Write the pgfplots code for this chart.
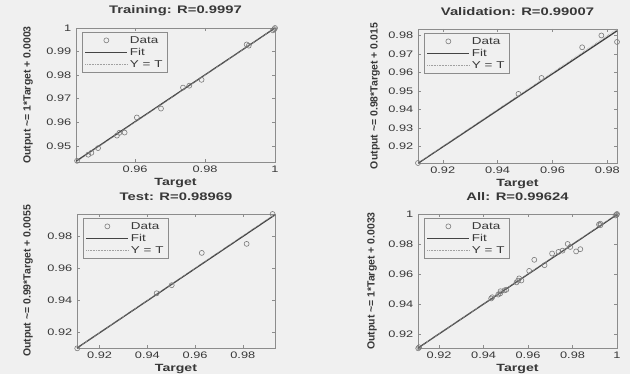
\documentclass[border=0pt]{standalone}
\usepackage{pgfplots}
\pgfplotsset{compat=1.18}
\usepackage{fontspec}
\setmainfont{Liberation Sans}
\definecolor{bgc}{HTML}{F0F0F0}
\definecolor{framec}{HTML}{8C8C8C}
\definecolor{txtc}{HTML}{383838}
\definecolor{fitc}{HTML}{444444}
\definecolor{markc}{HTML}{7A7A7A}
\definecolor{idc}{HTML}{A0A0A0}
\newcommand{\sx}[1]{\scalebox{1.35}[1]{#1}}

\pgfplotstableread{
x y
0.9434 0.9436
0.9466 0.9462
0.9475 0.9470
0.9494 0.9490
0.9548 0.9543
0.9555 0.9555
0.9570 0.9556
0.9605 0.9620
0.9674 0.9658
0.9737 0.9747
0.9755 0.9755
0.9790 0.9780
0.9919 0.9930
0.9925 0.9925
0.9994 0.9990
0.9998 0.9995
1.0000 1.0000
}\trainT
\pgfplotstableread{
x y
0.9110 0.9110
0.9476 0.9484
0.9560 0.9570
0.9708 0.9736
0.9778 0.9800
0.9835 0.9765
}\valT
\pgfplotstableread{
x y
0.9106 0.9103
0.9439 0.9444
0.9502 0.9494
0.9628 0.9694
0.9816 0.9750
0.9925 0.9935
}\testT
\pgfplotstableread{
x y
0.9434 0.9436
0.9466 0.9462
0.9475 0.9470
0.9494 0.9490
0.9548 0.9543
0.9555 0.9555
0.9570 0.9556
0.9605 0.9620
0.9674 0.9658
0.9737 0.9747
0.9755 0.9755
0.9790 0.9780
0.9919 0.9930
0.9925 0.9925
0.9994 0.9990
0.9998 0.9995
1.0000 1.0000
0.9110 0.9110
0.9476 0.9484
0.9560 0.9570
0.9708 0.9736
0.9778 0.9800
0.9835 0.9765
0.9106 0.9103
0.9439 0.9444
0.9502 0.9494
0.9628 0.9694
0.9816 0.9750
0.9925 0.9935
}\allT

\pgfplotsset{
  reg/.style={
    scale only axis, width=199bp, height=134bp,
    anchor=south west, clip=false,
    axis line style={framec, line width=0.5pt},
    tick style={framec, line width=0.4pt},
    tick align=inside, major tick length=3bp,
    axis background/.style={fill=bgc},
    scaled ticks=false,
    /pgf/number format/assume math mode=true,
    xticklabel style={/pgf/number format/fixed, /pgf/number format/precision=2,
      font=\fontsize{9.5}{10}\selectfont, text=txtc, xscale=1.35},
    yticklabel style={/pgf/number format/fixed, /pgf/number format/precision=2,
      font=\fontsize{9.5}{10}\selectfont, text=txtc, xscale=1.35},
    title style={font=\bfseries\fontsize{11}{12}\selectfont, text=txtc,
      at={(axis description cs:0.5,1)}, anchor=center, yshift=11bp},
    xlabel style={font=\bfseries\fontsize{10.5}{12}\selectfont, text=txtc,
      at={(axis description cs:0.5,0)}, anchor=center, yshift=-21bp},
    ylabel style={font=\bfseries\fontsize{10.5}{12}\selectfont, text=txtc},
    xlabel={\sx{Target}},
    legend style={at={([xshift=6bp,yshift=-4bp]axis description cs:0,1)},
      anchor=north west, draw=framec, fill=bgc,
      font=\fontsize{10}{11}\selectfont, text=txtc,
      inner xsep=2.5bp, inner ysep=2bp, row sep=-0.5bp},
    legend cell align=left,
    legend image code/.code={\draw[mark repeat=2,mark phase=2,#1]
      plot coordinates {(0bp,0bp)(21bp,0bp)(42bp,0bp)};},
  },
  datap/.style={only marks, mark=o, mark size=2.5bp, draw=markc, mark options={line width=0.6pt}},
  fitp/.style={fitc, line width=1.3pt, mark=none},
  idp/.style={idc, densely dotted, line width=0.6pt, mark=none},
}

\begin{document}
\begin{tikzpicture}
\fill[bgc] (0,0) rectangle (630bp,374bp);
\useasboundingbox (0,0) rectangle (630bp,374bp);

% Training
\begin{axis}[reg, at={(76bp,212bp)},
  xmin=0.9431, xmax=1.0, ymin=0.9431, ymax=1.0,
  xtick={0.96,0.98,1}, ytick={0.95,0.96,0.97,0.98,0.99,1},
  title={\sx{Training: R=0.9997}},
  ylabel={Output \textasciitilde= 1*Target + 0.0003},
  ylabel style={at={([xshift=-48bp]axis description cs:0,0.5)}, anchor=center}]
\addplot[datap] table[x=x,y=y]{\trainT};
\addlegendentry{\sx{Data}}
\addplot[fitp] coordinates {(0.9431,0.9434) (1.0,1.0)};
\addlegendentry{\sx{Fit}}
\addplot[idp] coordinates {(0.9431,0.9431) (1.0,1.0)};
\addlegendentry{\sx{Y = T}}
\end{axis}

% Validation
\begin{axis}[reg, at={(418bp,211bp)},
  xmin=0.911, xmax=0.9835, ymin=0.911, ymax=0.9835,
  xtick={0.92,0.94,0.96,0.98}, ytick={0.92,0.93,0.94,0.95,0.96,0.97,0.98},
  title={\sx{Validation: R=0.99007}},
  ylabel={Output \textasciitilde= 0.98*Target + 0.015},
  ylabel style={at={([xshift=-43bp]axis description cs:0,0.5)}, anchor=center}]
\addplot[datap] table[x=x,y=y]{\valT};
\addlegendentry{\sx{Data}}
\addplot[fitp] coordinates {(0.9112,0.911) (0.9835,0.9825)};
\addlegendentry{\sx{Fit}}
\addplot[idp] coordinates {(0.911,0.911) (0.9835,0.9835)};
\addlegendentry{\sx{Y = T}}
\end{axis}

% Test
\begin{axis}[reg, at={(77bp,26bp)}, width=198bp,
  xmin=0.9105, xmax=0.9935, ymin=0.9105, ymax=0.9935,
  xtick={0.92,0.94,0.96,0.98}, ytick={0.92,0.94,0.96,0.98},
  title={\sx{Test: R=0.98969}},
  ylabel={Output \textasciitilde= 0.99*Target + 0.0055},
  ylabel style={at={([xshift=-49bp]axis description cs:0,0.5)}, anchor=center}]
\addplot[datap] table[x=x,y=y]{\testT};
\addlegendentry{\sx{Data}}
\addplot[fitp] coordinates {(0.9105,0.9105) (0.9935,0.9930)};
\addlegendentry{\sx{Fit}}
\addplot[idp] coordinates {(0.9105,0.9105) (0.9935,0.9935)};
\addlegendentry{\sx{Y = T}}
\end{axis}

% All
\begin{axis}[reg, at={(418bp,26bp)},
  xmin=0.9105, xmax=1.0, ymin=0.9105, ymax=1.0,
  xtick={0.92,0.94,0.96,0.98,1}, ytick={0.92,0.94,0.96,0.98,1},
  title={\sx{All: R=0.99624}},
  ylabel={Output \textasciitilde= 1*Target + 0.0033},
  ylabel style={at={([xshift=-46bp]axis description cs:0,0.5)}, anchor=center}]
\addplot[datap] table[x=x,y=y]{\allT};
\addlegendentry{\sx{Data}}
\addplot[fitp] coordinates {(0.9105,0.9105) (1.0,0.9996)};
\addlegendentry{\sx{Fit}}
\addplot[idp] coordinates {(0.9105,0.9105) (1.0,1.0)};
\addlegendentry{\sx{Y = T}}
\end{axis}
\end{tikzpicture}
\end{document}
